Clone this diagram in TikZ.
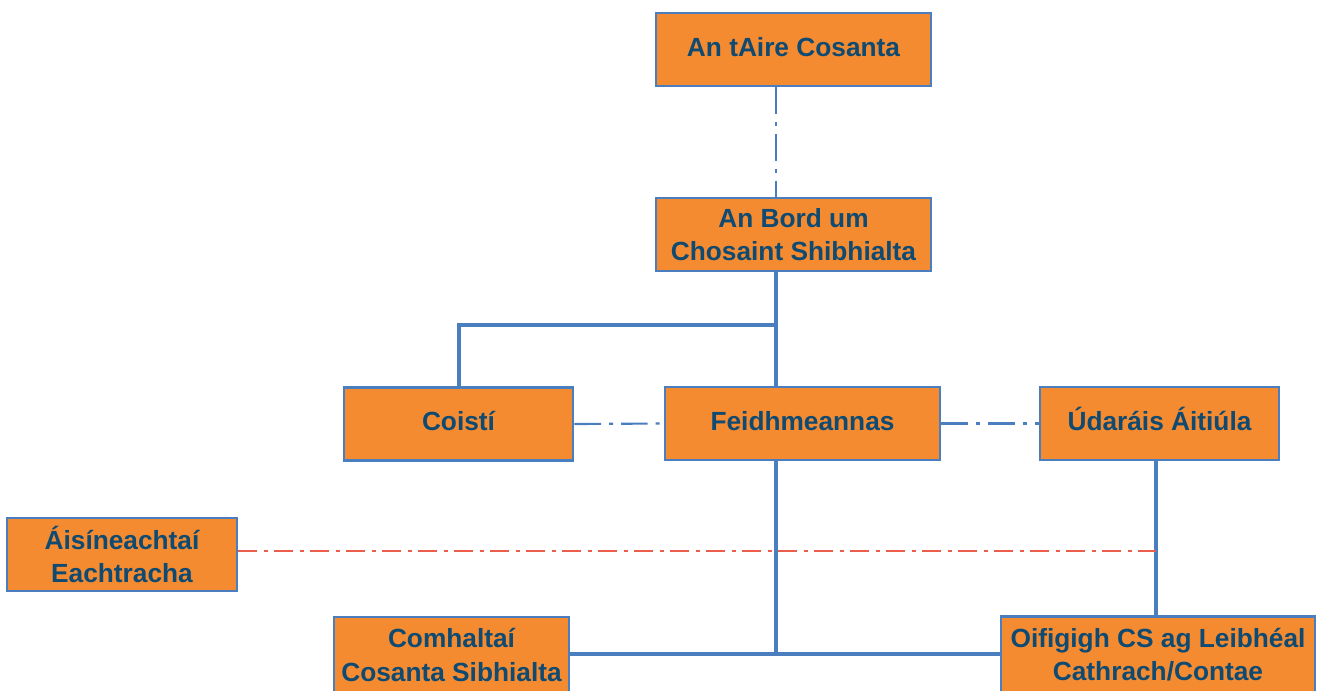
\documentclass[tikz,border=0pt]{standalone}
\usepackage{fontspec}
\setmainfont{Liberation Sans}
\usepackage{xcolor}
\definecolor{boxorange}{HTML}{F48B30}
\definecolor{boxblue}{HTML}{4A7EBF}
\definecolor{textblue}{HTML}{0F4A72}
\definecolor{linkred}{HTML}{EB5E4B}
\begin{document}
\begin{tikzpicture}[x=0.75pt,y=0.75pt,yscale=-1,xscale=1,
    orgbox/.style={draw=boxblue,line width=2.1pt,fill=boxorange,text=textblue,
        font=\fontsize{19.7}{25}\selectfont\bfseries,align=center,inner sep=0pt,
        minimum height=54.75pt},
    oneline/.style={text height=14pt,text depth=4pt},
    solidlink/.style={draw=boxblue,line width=3pt},
    dotlink/.style={draw=boxblue,line width=1.6pt,dash pattern=on 20pt off 6pt on 3pt off 6pt},
    redlink/.style={draw=linkred,line width=1.6pt,dash pattern=on 14pt off 5pt on 3pt off 5pt}]
            \useasboundingbox (0,0) rectangle (1322,690);
            % boxes
            \node [orgbox,oneline,minimum width=206.25pt] (aire) at (793.5,49.5) {An tAire Cosanta};
            \node [orgbox,minimum width=206.25pt] (bord) at (793.5,234.5) {An Bord um\\Chosaint Shibhialta};
            \node [orgbox,oneline,minimum width=171.75pt] (coisti) at (458.5,424) {Coistí};
            \node [orgbox,oneline,minimum width=206.25pt] (feid) at (802.5,423.5) {Feidhmeannas};
            \node [orgbox,oneline,minimum width=179.25pt] (udarais) at (1159.5,423.5) {Údaráis Áitiúla};
            \node [orgbox,minimum width=172.5pt] (aisin) at (122,554.5) {Áisíneachtaí\\Eachtracha};
            \node [orgbox,minimum width=176.25pt,minimum height=57pt] (comh) at (451.5,655) {Comhaltaí\\Cosanta Sibhialta};
            \node [orgbox,minimum width=235.5pt,minimum height=57pt] (oif) at (1158,654.5) {Oifigigh CS ag Leibhéal\\Cathrach/Contae};
            % link points
            \coordinate (spine) at (776,0);
            \coordinate (ux) at (1156,0);
            \coordinate (jn) at (776,325);
            \coordinate (redy) at (0,551);
            \coordinate (lowy) at (0,654);
            % links
            \draw [dotlink] (aire.south -| spine) -- (bord.north -| spine);
            \draw [solidlink] (bord.south -| spine) -- (feid.north -| spine);
            \draw [solidlink] (jn) -| (coisti.north);
            \draw [dotlink] (coisti.east) -- (feid.west);
            \draw [dotlink] (feid.east) -- (udarais.west);
            \draw [solidlink] (feid.south -| spine) -- (spine |- lowy);
            \draw [solidlink] (comh.east |- lowy) -- (oif.west |- lowy);
            \draw [solidlink] (udarais.south -| ux) -- (oif.north -| ux);
            \draw [redlink] (aisin.east |- redy) -- (ux |- redy);
            \end{tikzpicture}
\end{document}
